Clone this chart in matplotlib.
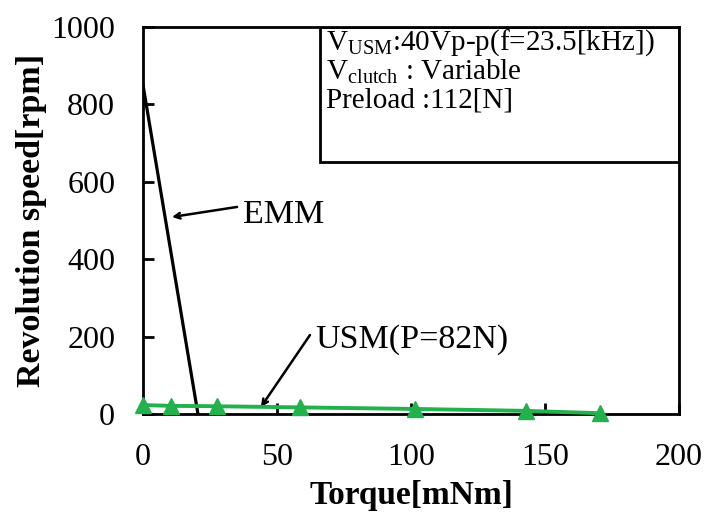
import matplotlib
matplotlib.use("Agg")
import matplotlib.pyplot as plt
from matplotlib.patches import Rectangle

plt.rcParams['font.family'] = ['Liberation Serif', 'DejaVu Serif']
plt.rcParams['mathtext.fontset'] = 'custom'
plt.rcParams['mathtext.rm'] = 'Liberation Serif'

# data
emm_torque = [0, 20.5]
emm_speed = [850, 0]

usm_torque = [0, 10.5, 27.5, 58.5, 101.5, 143, 170.5]
usm_speed = [23, 21, 20, 17, 13, 8, 2]

xticks = [0, 50, 100, 150, 200]
yticks = [0, 200, 400, 600, 800, 1000]

fig = plt.figure(figsize=(7.09, 5.14), dpi=100)
ax = fig.add_axes([0.2017, 0.1946, 0.7560, 0.7529])

ax.plot(emm_torque, emm_speed, color='black', lw=2.3)
ax.plot(usm_torque, usm_speed, color='#22b14c', lw=2.8, marker='^',
        markersize=11, markeredgecolor='#22b14c', clip_on=False, zorder=5)

ax.set_xlim(0, 200)
ax.set_ylim(0, 1000)
ax.set_xticks(xticks)
ax.set_yticks(yticks)
ax.tick_params(axis='both', direction='in', length=8, width=2, labelsize=23)
ax.tick_params(axis='x', pad=21)
ax.tick_params(axis='y', pad=20)
for s in ax.spines.values():
    s.set_linewidth(2)

ax.set_xlabel('Torque[mNm]', fontsize=24, fontweight='bold')
ax.set_ylabel('Revolution speed[rpm]', fontsize=24.5, fontweight='bold')
ax.xaxis.set_label_coords(0.5, -0.17)
ax.yaxis.set_label_coords(-0.18, 0.5)

# condition box
ax.add_patch(Rectangle((0.33, 0.651), 0.67, 0.349, transform=ax.transAxes,
                       fill=False, edgecolor='black', lw=2, zorder=6))
ax.text(0.341, 0.9406, r'V$_{\mathregular{USM}}$:40Vp-p(f=23.5[kHz])',
        transform=ax.transAxes, fontsize=21, va='baseline', ha='left')
ax.text(0.341, 0.866, r'V$_{\mathregular{clutch}}$ : Variable',
        transform=ax.transAxes, fontsize=21, va='baseline', ha='left')
ax.text(0.341, 0.793, 'Preload :112[N]',
        transform=ax.transAxes, fontsize=21, va='baseline', ha='left')

# annotations
ax.text(37.3, 493, 'EMM', fontsize=24.5, va='baseline', ha='left')
ax.annotate('', xy=(10.8, 509), xytext=(35.1, 535),
            arrowprops=dict(arrowstyle='->', color='black', lw=1.8,
                            shrinkA=0, shrinkB=0))
ax.text(64.2, 170, 'USM(P=82N)', fontsize=24.5, va='baseline', ha='left')
ax.annotate('', xy=(44, 18), xytext=(62.3, 204),
            arrowprops=dict(arrowstyle='->', color='black', lw=1.8,
                            shrinkA=0, shrinkB=0))

plt.savefig('out.png', dpi=100)
